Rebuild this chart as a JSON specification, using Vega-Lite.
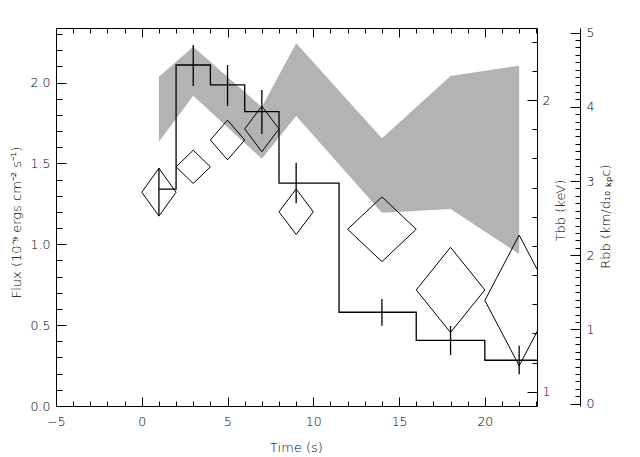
{
  "$schema": "https://vega.github.io/schema/vega-lite/v6.json",
  "width": 481,
  "height": 378,
  "autosize": {"type": "none"},
  "padding": {"left": 56, "top": 28, "right": 103, "bottom": 51},
  "background": "white",
  "config": {
    "view": {"stroke": null},
    "font": "DejaVu Sans",
    "axis": {
      "grid": false,
      "domainColor": "black",
      "tickColor": "black",
      "labelColor": "black",
      "titleColor": "black",
      "labelFont": "DejaVu Sans",
      "titleFont": "DejaVu Sans",
      "labelFontSize": 12.5,
      "titleFontSize": 13,
      "labelFontWeight": 300,
      "titleFontWeight": 300,
      "labelOverlap": false,
      "labelFlush": false,
      "labelBound": false,
      "domainWidth": 1,
      "tickWidth": 1
    }
  },
  "datasets": {
    "band": [
      {"t": 1, "Rlo": 3.530, "Rhi": 4.406},
      {"t": 3, "Rlo": 4.150, "Rhi": 4.810},
      {"t": 7, "Rlo": 3.299, "Rhi": 3.997},
      {"t": 9, "Rlo": 3.876, "Rhi": 4.856},
      {"t": 14, "Rlo": 2.573, "Rhi": 3.575},
      {"t": 18, "Rlo": 2.623, "Rhi": 4.415},
      {"t": 22, "Rlo": 2.016, "Rhi": 4.554}
    ],
    "diamonds": [
      {"t": 1, "tlo": 0, "thi": 2, "T": 1.684, "Tlo": 1.602, "Thi": 1.766},
      {"t": 3, "tlo": 2, "thi": 4, "T": 1.771, "Tlo": 1.714, "Thi": 1.828},
      {"t": 5, "tlo": 4, "thi": 6, "T": 1.863, "Tlo": 1.795, "Thi": 1.931},
      {"t": 7, "tlo": 6, "thi": 8, "T": 1.901, "Tlo": 1.823, "Thi": 1.979},
      {"t": 9, "tlo": 8, "thi": 10, "T": 1.617, "Tlo": 1.539, "Thi": 1.695},
      {"t": 14, "tlo": 12, "thi": 16, "T": 1.557, "Tlo": 1.446, "Thi": 1.668},
      {"t": 18, "tlo": 16, "thi": 20, "T": 1.349, "Tlo": 1.203, "Thi": 1.495},
      {"t": 22, "tlo": 20, "thi": 24, "T": 1.313, "Tlo": 1.089, "Thi": 1.537}
    ],
    "steps": [
      {"t": 1, "flux": 1.341},
      {"t": 2, "flux": 2.109},
      {"t": 4, "flux": 1.986},
      {"t": 6, "flux": 1.821},
      {"t": 8, "flux": 1.378},
      {"t": 11.5, "flux": 0.580},
      {"t": 16, "flux": 0.406},
      {"t": 20, "flux": 0.283},
      {"t": 24, "flux": 0.283}
    ],
    "errors": [
      {"t": 1, "flo": 1.182, "fhi": 1.472},
      {"t": 3, "flo": 1.980, "fhi": 2.233},
      {"t": 5, "flo": 1.856, "fhi": 2.109},
      {"t": 7, "flo": 1.683, "fhi": 1.955},
      {"t": 9, "flo": 1.254, "fhi": 1.505},
      {"t": 14, "flo": 0.497, "fhi": 0.662},
      {"t": 18, "flo": 0.315, "fhi": 0.495},
      {"t": 22, "flo": 0.196, "fhi": 0.373}
    ]
  },
  "layer": [
    {
      "data": {"name": "band"},
      "mark": {"type": "area", "color": "#b3b3b3", "opacity": 1, "clip": true},
      "encoding": {
        "x": {
          "field": "t", "type": "quantitative",
          "scale": {"domain": [-5, 23.04], "nice": false, "zero": false},
          "axis": {
            "orient": "bottom",
            "title": "Time (s)",
            "values": [-5,-4,-3,-2,-1,0,1,2,3,4,5,6,7,8,9,10,11,12,13,14,15,16,17,18,19,20,21,22,23],
            "format": "d",
            "labelExpr": "abs(datum.value/5 - round(datum.value/5)) < 1e-6 ? datum.label : ''",
            "tickSize": {"condition": {"test": "abs(datum.value/5 - round(datum.value/5)) < 1e-6", "value": -9}, "value": -5},
            "labelPadding": 18,
            "titleX": 240,
            "titleY": 41,
            "titleBaseline": "middle"
          }
        },
        "y": {
          "field": "Rlo", "type": "quantitative",
          "scale": {"domain": [-0.032, 5.062], "nice": false, "zero": false},
          "axis": {
            "orient": "right",
            "offset": 43,
            "title": "Rbb (km/d₁₀ ₖₚc)",
            "values": [0,0.1,0.2,0.3,0.4,0.5,0.6,0.7,0.8,0.9,1,1.1,1.2,1.3,1.4,1.5,1.6,1.7,1.8,1.9,2,2.1,2.2,2.3,2.4,2.5,2.6,2.7,2.8,2.9,3,3.1,3.2,3.3,3.4,3.5,3.6,3.7,3.8,3.9,4,4.1,4.2,4.3,4.4,4.5,4.6,4.7,4.8,4.9,5],
            "labelExpr": "abs(datum.value - round(datum.value)) < 1e-6 ? format(datum.value, 'd') : ''",
            "tickSize": {"condition": {"test": "abs(datum.value - round(datum.value)) < 1e-6", "value": -10}, "value": -5},
            "labelPadding": 16,
            "titleAngle": 270,
            "titleX": 25,
            "titleY": 188,
            "titleBaseline": "middle",
            "titleAlign": "center"
          }
        },
        "y2": {"field": "Rhi"}
      }
    },
    {
      "data": {"name": "diamonds"},
      "resolve": {"axis": {"x": "independent", "y": "independent"}},
      "layer": [
        {
          "mark": {"type": "rule", "color": "black", "strokeWidth": 1, "clip": true},
          "encoding": {
            "x": {"field": "tlo", "type": "quantitative", "axis": null},
            "x2": {"field": "t"},
            "y": {
              "field": "T", "type": "quantitative",
              "scale": {"domain": [0.951, 2.247], "nice": false, "zero": false},
              "axis": {
                "orient": "right",
                "title": "Tbb (keV)",
                "values": [1,1.1,1.2,1.3,1.4,1.5,1.6,1.7,1.8,1.9,2,2.1,2.2],
                "labelExpr": "abs(datum.value - round(datum.value)) < 1e-6 ? format(datum.value, 'd') : ''",
                "tickSize": {"condition": {"test": "abs(datum.value - round(datum.value)) < 1e-6", "value": -10}, "value": -5},
                "labelPadding": 15,
                "titleAngle": 270,
                "titleX": 23,
                "titleY": 182,
                "titleBaseline": "middle",
                "titleAlign": "center"
              }
            },
            "y2": {"field": "Thi"}
          }
        },
        {
          "mark": {"type": "rule", "color": "black", "strokeWidth": 1, "clip": true},
          "encoding": {
            "x": {"field": "t", "type": "quantitative", "axis": null},
            "x2": {"field": "thi"},
            "y": {"field": "Thi", "type": "quantitative", "axis": null},
            "y2": {"field": "T"}
          }
        },
        {
          "mark": {"type": "rule", "color": "black", "strokeWidth": 1, "clip": true},
          "encoding": {
            "x": {"field": "thi", "type": "quantitative", "axis": null},
            "x2": {"field": "t"},
            "y": {"field": "T", "type": "quantitative", "axis": null},
            "y2": {"field": "Tlo"}
          }
        },
        {
          "mark": {"type": "rule", "color": "black", "strokeWidth": 1, "clip": true},
          "encoding": {
            "x": {"field": "t", "type": "quantitative", "axis": null},
            "x2": {"field": "tlo"},
            "y": {"field": "Tlo", "type": "quantitative", "axis": null},
            "y2": {"field": "T"}
          }
        }
      ]
    },
    {
      "resolve": {"axis": {"x": "independent", "y": "independent"}},
      "layer": [
        {
          "data": {"name": "steps"},
          "mark": {"type": "line", "color": "black", "strokeWidth": 1.3, "interpolate": "step-after", "clip": true},
          "encoding": {
            "x": {
              "field": "t", "type": "quantitative",
              "axis": {
                "orient": "top",
                "title": null,
                "values": [-5,-4,-3,-2,-1,0,1,2,3,4,5,6,7,8,9,10,11,12,13,14,15,16,17,18,19,20,21,22,23],
                "labels": false,
                "tickSize": {"condition": {"test": "abs(datum.value/5 - round(datum.value/5)) < 1e-6", "value": -9}, "value": -5}
              }
            },
            "y": {
              "field": "flux", "type": "quantitative",
              "scale": {"domain": [0, 2.338], "nice": false, "zero": false},
              "axis": {
                "orient": "left",
                "title": "Flux (10⁻⁹ ergs cm⁻² s⁻¹)",
                "values": [0,0.1,0.2,0.3,0.4,0.5,0.6,0.7,0.8,0.9,1,1.1,1.2,1.3,1.4,1.5,1.6,1.7,1.8,1.9,2,2.1,2.2,2.3],
                "labelExpr": "abs(datum.value*2 - round(datum.value*2)) < 1e-6 ? format(datum.value, '.1f') : ''",
                "tickSize": {"condition": {"test": "abs(datum.value*2 - round(datum.value*2)) < 1e-6", "value": -10}, "value": -6},
                "labelPadding": 16,
                "titleAngle": 270,
                "titleX": -40,
                "titleY": 194,
                "titleBaseline": "middle",
                "titleAlign": "center"
              }
            }
          }
        },
        {
          "data": {"name": "errors"},
          "mark": {"type": "rule", "color": "black", "strokeWidth": 1.3, "clip": true},
          "encoding": {
            "x": {"field": "t", "type": "quantitative", "axis": null},
            "y": {"field": "flo", "type": "quantitative", "axis": null},
            "y2": {"field": "fhi"}
          }
        }
      ]
    }
  ],
  "resolve": {"scale": {"y": "independent"}, "axis": {"x": "independent", "y": "independent"}}
}
